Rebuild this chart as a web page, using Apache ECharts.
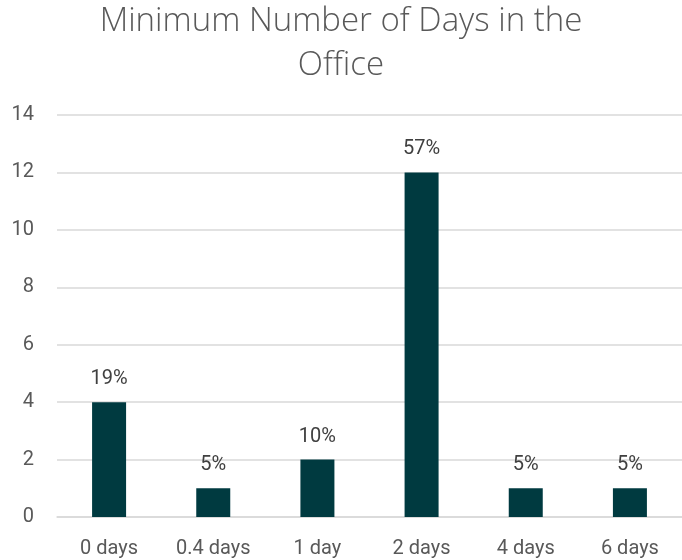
<!DOCTYPE html>
<html>
<head>
<meta charset="utf-8">
<script src="https://cdn.jsdelivr.net/npm/echarts@6/dist/echarts.min.js"></script>
<style>
  html, body { margin: 0; padding: 0; background: #fff; }
  #chart { width: 682px; height: 560px; }
</style>
</head>
<body>
<div id="chart"></div>
<script>
const categories = ['0 days', '0.4 days', '1 day', '2 days', '4 days', '6 days'];
const counts = [4, 1, 2, 12, 1, 1];
const shares = ['19%', '5%', '10%', '57%', '5%', '5%'];

const chart = echarts.init(document.getElementById('chart'));

chart.setOption({
  animation: false,
  title: {
    text: 'Minimum Number of Days in the\nOffice',
    left: 'center',
    top: -5,
    textStyle: {
      fontFamily: 'Open Sans',
      fontWeight: 300,
      fontSize: 33,
      lineHeight: 44,
      color: '#595959'
    }
  },
  grid: { left: 57, right: 0, top: 115, bottom: 43 },
  xAxis: {
    type: 'category',
    data: categories,
    axisLine: { show: true, lineStyle: { color: '#d9d9d9', width: 1.5 } },
    axisTick: { show: false },
    axisLabel: { color: '#595959', fontSize: 20, fontFamily: 'Roboto', margin: 22 }
  },
  yAxis: {
    type: 'value',
    min: 0,
    max: 14,
    interval: 2,
    axisLine: { show: false },
    axisTick: { show: false },
    splitLine: { lineStyle: { color: '#d9d9d9', width: 1.5 } },
    axisLabel: { color: '#595959', fontSize: 20, fontFamily: 'Roboto', margin: 23 }
  },
  series: [{
    type: 'bar',
    data: counts,
    barWidth: 34,
    itemStyle: { color: '#003a40' },
    label: {
      show: true,
      position: 'top',
      distance: 13,
      color: '#404040',
      fontSize: 20,
      fontFamily: 'Roboto',
      formatter: p => shares[p.dataIndex]
    }
  }]
});
</script>
</body>
</html>
